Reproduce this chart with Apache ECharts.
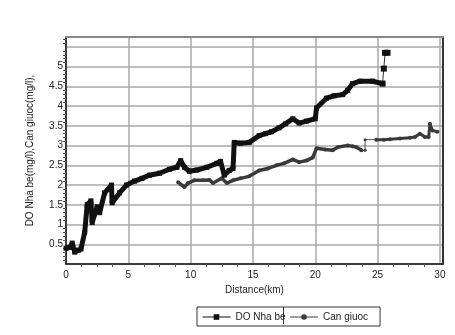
<!DOCTYPE html>
<html>
<head>
<meta charset="utf-8">
<script src="https://cdn.jsdelivr.net/npm/echarts@6/dist/echarts.min.js"></script>
<style>
    html, body {margin: 0; padding: 0; background: #fff;}
    #chart {width: 455px; height: 335px;}
</style>
</head>
<body>
<div id="chart"></div>
<script>
// DO Nha be: distance (km) / DO (mg/l)
const nhabeKm = [0, 0.3, 0.5, 0.7, 1.0, 1.2, 1.5, 1.7, 2.0, 2.1, 2.5, 2.7, 3.1, 3.65, 3.7, 4.3, 4.85, 5.5,
    6.1, 6.7, 7.5, 8.3, 8.9, 9.2, 9.5, 9.9, 10.5, 11.3, 12.1, 12.4, 12.7, 13.1, 13.4, 13.5, 14.0, 14.7,
    15.5, 16.0, 16.5, 17.1, 17.6, 18.2, 18.7, 19.3, 20.0, 20.1, 20.9, 21.5, 22.2, 22.6, 23.0, 23.6, 24.6, 25.4];
const nhabeDo = [0.4, 0.42, 0.53, 0.3, 0.35, 0.38, 0.8, 1.5, 1.6, 1.05, 1.45, 1.3, 1.8, 2.0, 1.55, 1.8, 2.0, 2.1,
    2.17, 2.25, 2.3, 2.4, 2.45, 2.62, 2.45, 2.35, 2.38, 2.45, 2.55, 2.6, 2.25, 2.37, 2.42, 3.08, 3.06, 3.08,
    3.25, 3.3, 3.35, 3.45, 3.55, 3.68, 3.57, 3.62, 3.68, 3.95, 4.2, 4.26, 4.29, 4.4, 4.57, 4.63, 4.63, 4.57];
// thin tail of DO Nha be
const nhabeTailKm = [25.4, 25.5, 25.6, 25.8];
const nhabeTailDo = [4.57, 4.95, 5.35, 5.35];

// Can giuoc
const giuocKm = [9.0, 9.5, 9.8, 10.3, 11.0, 11.5, 11.8, 12.5, 12.9, 13.4, 14.0, 14.7, 15.5, 16.2, 16.9,
    17.5, 18.2, 18.7, 19.3, 19.8, 20.1, 20.8, 21.4, 21.8, 22.6, 23.0, 23.3, 23.7];
const giuocDo = [2.07, 1.95, 2.05, 2.12, 2.12, 2.13, 2.05, 2.17, 2.05, 2.12, 2.17, 2.22, 2.37, 2.42, 2.5,
    2.55, 2.65, 2.58, 2.62, 2.7, 2.93, 2.9, 2.88, 2.96, 3.0, 2.98, 2.96, 2.88];
const giuocGapKm = [23.7, 24.0, 24.0, 24.9];
const giuocGapDo = [2.88, 2.88, 3.15, 3.15];
const giuocTailKm = [24.9, 25.5, 26.0, 26.8, 27.6, 28.0, 28.4, 28.8, 29.1, 29.2, 29.4, 29.8];
const giuocTailDo = [3.15, 3.15, 3.16, 3.18, 3.2, 3.22, 3.3, 3.22, 3.22, 3.55, 3.38, 3.35];

const xTicks = [0, 5, 10, 15, 20, 25, 30];
const yTicks = [0.5, 1, 1.5, 2, 2.5, 3, 3.5, 4, 4.5, 5];

const pairs = (xs, ys) => xs.map((x, i) => [x, ys[i]]);
const txt = {fontFamily: 'Liberation Sans, Arial', fontSize: 10, color: '#222'};
const gridLine = {show: true, lineStyle: {color: '#a8a8a8', width: 1.5, type: 'solid'}};

let chart = echarts.init(document.getElementById('chart'));
chart.setOption({
    animation: false,
    grid: {left: 66, right: 12, top: 37, bottom: 71},
    legend: {
        left: 197, top: 307,
        padding: [5, 12, 4, 5],
        itemWidth: 28, itemHeight: 7, itemGap: 4,
        borderColor: '#333', borderWidth: 1,
        textStyle: txt,
        lineStyle: {width: 1},
        data: ['DO Nha be', 'Can giuoc']
    },
    graphic: [{
        type: 'line', shape: {x1: 283.5, y1: 307, x2: 283.5, y2: 324},
        style: {stroke: '#333', lineWidth: 1}
    }],
    xAxis: [{
        type: 'value', min: 0, max: 30.25, interval: 5, position: 'bottom',
        name: 'Distance(km)', nameLocation: 'middle', nameGap: 19, nameTextStyle: txt,
        axisLine: {show: true, onZero: false, lineStyle: {color: '#111', width: 1.5}},
        axisTick: {show: false},
        minorTick: {show: true, splitNumber: 4, length: 3, lineStyle: {color: '#555'}},
        axisLabel: Object.assign({
            margin: 6,
            formatter: v => xTicks.indexOf(v) >= 0 ? String(v) : ''
        }, txt),
        splitLine: gridLine
    }, {
        type: 'value', min: 0, max: 30.25, position: 'top',
        axisLine: {show: true, onZero: false, lineStyle: {color: '#888', width: 2}},
        axisTick: {show: false}, axisLabel: {show: false}, splitLine: {show: false}
    }],
    yAxis: [{
        type: 'value', min: 0, max: 5.75, interval: 0.5, position: 'left',
        name: 'DO Nha be(mg/l),Can giuoc(mg/l),', nameLocation: 'middle', nameGap: 31,
        nameTextStyle: txt,
        axisLine: {show: true, onZero: false, lineStyle: {color: '#111', width: 1.5}},
        axisTick: {show: false},
        minorTick: {show: true, splitNumber: 5, length: 3, lineStyle: {color: '#555'}},
        axisLabel: Object.assign({
            margin: 3,
            formatter: v => yTicks.indexOf(v) >= 0 ? String(v) : ''
        }, txt),
        splitLine: gridLine
    }, {
        type: 'value', min: 0, max: 5.75, position: 'right',
        axisLine: {show: true, onZero: false, lineStyle: {color: '#333', width: 2}},
        axisTick: {show: false}, axisLabel: {show: false}, splitLine: {show: false}
    }],
    series: [
        {
            name: 'DO Nha be', type: 'line', data: pairs(nhabeKm, nhabeDo),
            symbol: 'rect', symbolSize: 5, showSymbol: true,
            itemStyle: {color: '#111'}, lineStyle: {color: '#111', width: 5}, z: 3
        },
        {
            name: 'DO Nha be', type: 'line', data: pairs(nhabeTailKm, nhabeTailDo),
            symbol: 'rect', symbolSize: 6,
            itemStyle: {color: '#111'}, lineStyle: {color: '#333', width: 1}, z: 3
        },
        {
            name: 'Can giuoc', type: 'line', data: pairs(giuocKm, giuocDo),
            symbol: 'circle', symbolSize: 4,
            itemStyle: {color: '#3a3a3a'}, lineStyle: {color: '#3a3a3a', width: 3.5}, z: 2
        },
        {
            name: 'Can giuoc', type: 'line', data: pairs(giuocGapKm, giuocGapDo),
            symbol: 'circle', symbolSize: 3,
            itemStyle: {color: '#3a3a3a'}, lineStyle: {color: '#555', width: 1}, z: 2
        },
        {
            name: 'Can giuoc', type: 'line', data: pairs(giuocTailKm, giuocTailDo),
            symbol: 'circle', symbolSize: 4,
            itemStyle: {color: '#3a3a3a'}, lineStyle: {color: '#3a3a3a', width: 3}, z: 2
        }
    ]
});
</script>
</body>
</html>
